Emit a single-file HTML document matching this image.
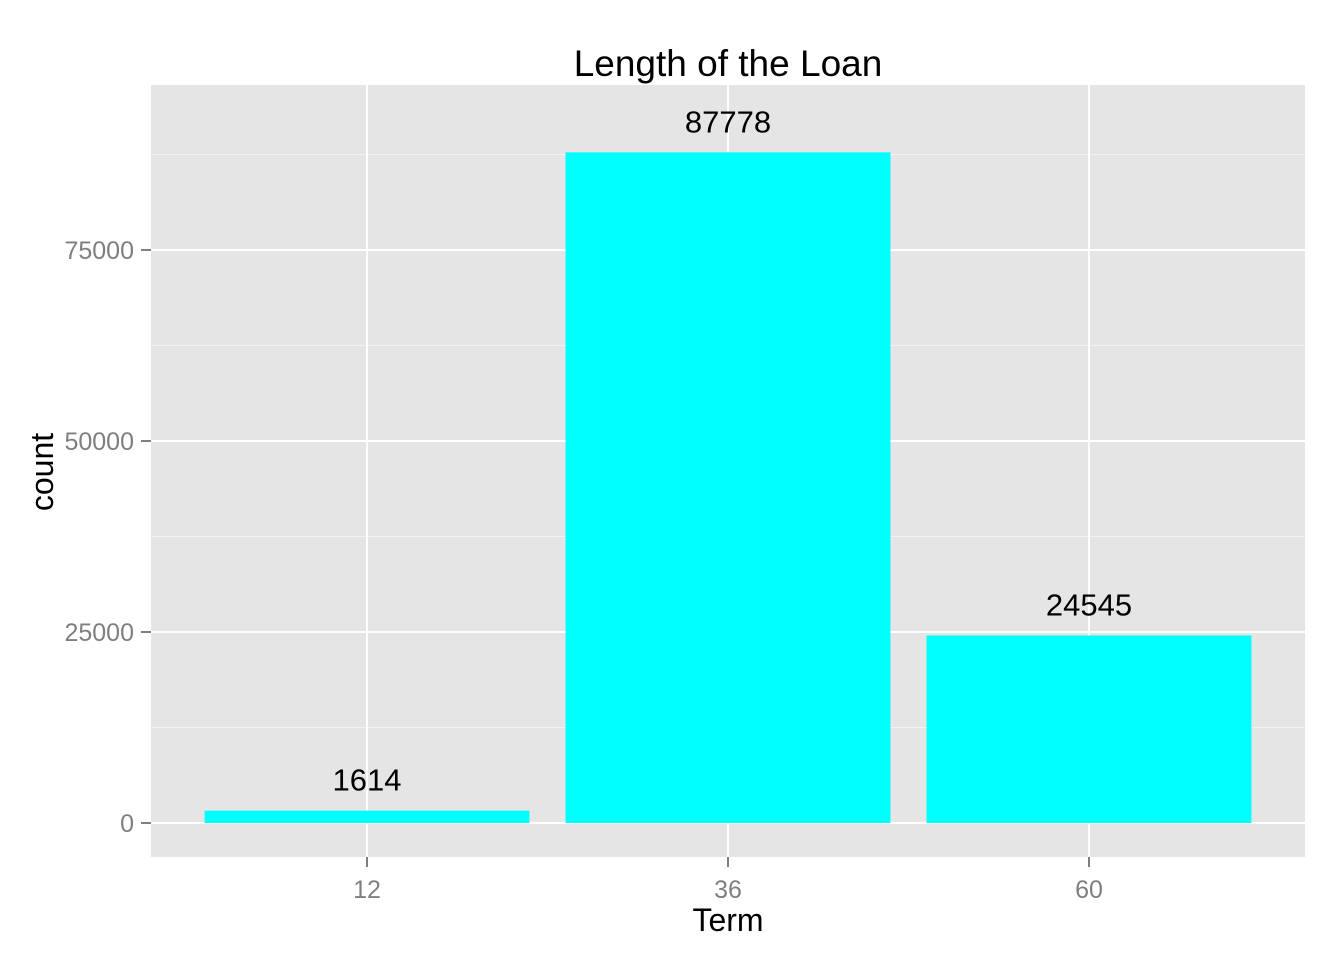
<!DOCTYPE html>
<html><head><meta charset="utf-8"><style>
body{margin:0;background:#fff;}
svg{display:block;font-family:"Liberation Sans",Arial,sans-serif;}
</style></head><body>
<svg id="chart" width="1344" height="960">
<rect x="151" y="85" width="1154" height="772" fill="#e5e5e5"/>
<g id="grid"></g><g id="bars"></g><g id="labels"></g><g id="axes"></g>
<text x="728" y="76" text-anchor="middle" font-size="37" fill="#000">Length of the Loan</text>
<text x="728" y="931" text-anchor="middle" font-size="32" fill="#000">Term</text>
<text transform="translate(53,472) rotate(-90)" text-anchor="middle" font-size="32" fill="#000">count</text>
</svg>
<script>
const categories=["12","36","60"];
const counts=[1614,87778,24545];
const yTicks=[0,25000,50000,75000];
const yMinor=[12500,37500,62500,87500];
const ns="http://www.w3.org/2000/svg";
const x0=151,x1=1305,yb=823;
const pxPerUnit=191/25000;
const y=v=>yb-v*pxPerUnit;
const step=361, xc=i=>367+i*step, bw=step*0.9;
function mk(tag,attrs,parent){const e=document.createElementNS(ns,tag);for(const k in attrs)e.setAttribute(k,attrs[k]);document.getElementById(parent).appendChild(e);return e;}
yMinor.forEach(v=>{const l=mk('line',{x1:x0,x2:x1,y1:y(v),y2:y(v),stroke:'#f2f2f2','stroke-width':1},'grid');

});
yTicks.forEach(v=>{const l=mk('line',{x1:x0,x2:x1,y1:y(v),y2:y(v),stroke:'#fff','stroke-width':2},'grid');


const t=mk('line',{x1:x0-10,x2:x0,y1:y(v),y2:y(v),stroke:'#7f7f7f','stroke-width':2},'axes');


const tx=mk('text',{x:x0-17,y:y(v)+9,'text-anchor':'end','font-size':25,fill:'#7f7f7f'},'axes');tx.textContent=v;

});
categories.forEach((c,i)=>{const l=mk('line',{x1:xc(i),x2:xc(i),y1:85,y2:857,stroke:'#fff','stroke-width':2},'grid');


const b=mk('rect',{x:xc(i)-bw/2,y:y(counts[i]),width:bw,height:yb-y(counts[i]),fill:'#00ffff'},'bars');


const lb=mk('text',{x:xc(i),y:y(counts[i])-20,'text-anchor':'middle','font-size':31,fill:'#000'},'labels');lb.textContent=counts[i];


const t=mk('line',{x1:xc(i),x2:xc(i),y1:857,y2:867,stroke:'#7f7f7f','stroke-width':2},'axes');


const tx=mk('text',{x:xc(i),y:898,'text-anchor':'middle','font-size':25,fill:'#7f7f7f'},'axes');tx.textContent=c;

});
</script>
</body></html>
